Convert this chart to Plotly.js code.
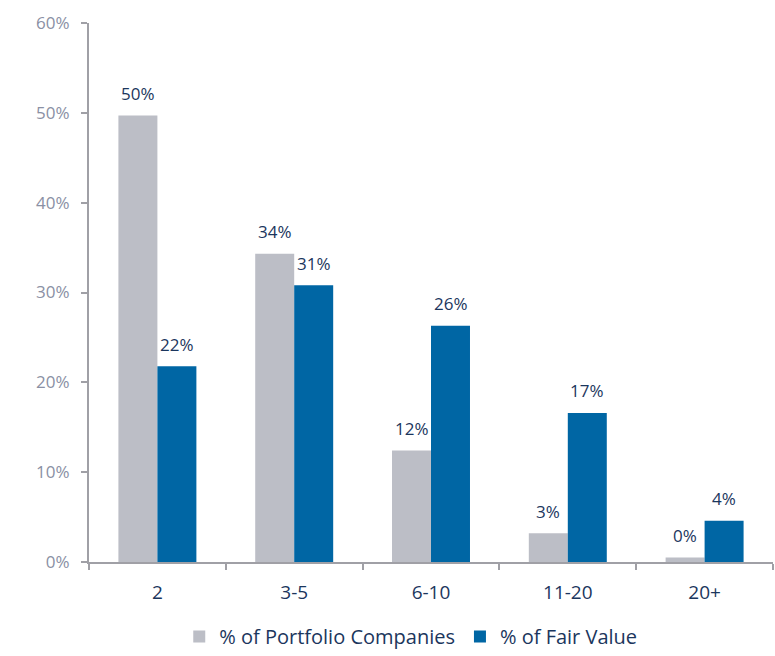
<!DOCTYPE html>
<html>
<head>
<meta charset="utf-8">
<script src="https://cdn.plot.ly/plotly-3.0.1.min.js"></script>
<style>html,body{margin:0;padding:0;background:#fff;}#chart{width:775px;height:656px;}</style>
</head>
<body>
<div id="chart"></div>
<script>
const categories = ["2", "3-5", "6-10", "11-20", "20+"];
const portfolioCompanies = [49.7, 34.3, 12.4, 3.2, 0.5];
const fairValue = [21.8, 30.8, 26.3, 16.6, 4.6];
const portfolioLabels = ["50%", "34%", "12%", "3%", "0%"];
const fairValueLabels = ["22%", "31%", "26%", "17%", "4%"];
const seriesNames = ["% of Portfolio Companies", "% of Fair Value"];

const FONT = "Open Sans, Noto Sans, sans-serif";
const GRAY = "#bcbec6";
const BLUE = "#0066a4";
const NAVY = "#1b365d";

const traces = [
  {type: "bar", name: seriesNames[0], x: categories, y: portfolioCompanies, marker: {color: GRAY}, hoverinfo: "none"},
  {type: "bar", name: seriesNames[1], x: categories, y: fairValue, marker: {color: BLUE}, hoverinfo: "none"}
];

const annotations = [];
categories.forEach((c, i) => {
  annotations.push({x: i, y: portfolioCompanies[i], text: portfolioLabels[i], showarrow: false, xshift: -19.5, yshift: 22, yanchor: "middle", font: {family: FONT, size: 17, color: NAVY}});
  annotations.push({x: i, y: fairValue[i], text: fairValueLabels[i], showarrow: false, xshift: 19.5, yshift: 22, yanchor: "middle", font: {family: FONT, size: 17, color: NAVY}});
});

const layout = {
  width: 775, height: 656,
  margin: {l: 89, r: 2, t: 23, b: 94},
  paper_bgcolor: "#fff", plot_bgcolor: "#fff",
  barmode: "group", bargap: 0.43, bargroupgap: 0,
  font: {family: FONT},
  xaxis: {
    type: "category", showgrid: false, zeroline: false,
    showline: true, linecolor: "#a0a0a6", linewidth: 2,
    ticks: "outside", tickson: "boundaries", ticklen: 6, tickwidth: 2, tickcolor: "#a0a0a6",
    ticklabelstandoff: 12,
    tickfont: {family: FONT, size: 19, color: NAVY}
  },
  yaxis: {
    range: [0, 60], dtick: 10, ticksuffix: "%", showgrid: false, zeroline: false,
    showline: true, linecolor: "#a0a0a6", linewidth: 2,
    ticks: "outside", ticklen: 6, tickwidth: 2, tickcolor: "#a0a0a6",
    ticklabelstandoff: 8,
    tickfont: {family: FONT, size: 17, color: "#8a90a4"}
  },
  showlegend: true,
  legend: {orientation: "h", xref: "container", yref: "container", x: 0.53, xanchor: "center", y: 0, yanchor: "bottom",
    font: {family: FONT, size: 20, color: NAVY}, itemwidth: 30, traceorder: "normal"},
  annotations: annotations
};

Plotly.newPlot("chart", traces, layout, {displayModeBar: false, staticPlot: true});
</script>
</body>
</html>
